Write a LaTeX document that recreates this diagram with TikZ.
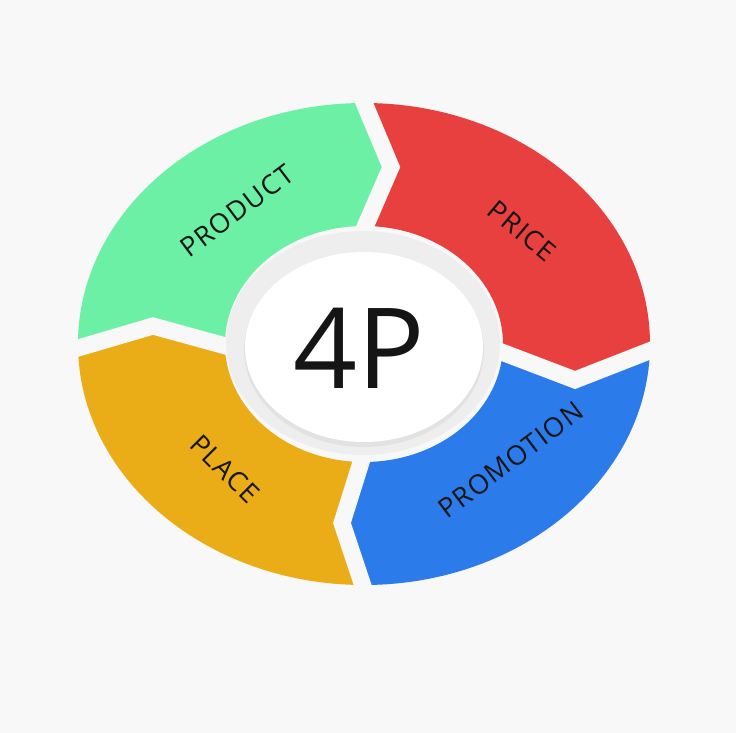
\documentclass[tikz,border=0pt]{standalone}
\usepackage{fontspec}
\setmainfont{Open Sans}
\newfontfamily\lblfont[LetterSpace=5]{Open Sans}
\definecolor{bg}{HTML}{F8F8F8}
\definecolor{prodc}{HTML}{6CF0A6}
\definecolor{pricec}{HTML}{E8403F}
\definecolor{promc}{HTML}{2C7BEB}
\definecolor{placec}{HTML}{EBAD17}
\definecolor{ringc}{HTML}{EEEEEE}
\definecolor{shadowc}{HTML}{E2E2E2}
\definecolor{labelc}{HTML}{151515}
\begin{document}
\begin{tikzpicture}[x=1pt,y=-1pt,
  lbl/.style={font=\lblfont\fontsize{27}{31}\selectfont, text=labelc, inner sep=0pt},
  gapline/.style={draw=bg, line width=17pt, miter limit=10, line join=miter}]
\useasboundingbox (0,0) rectangle (736,733);
\fill[bg] (0,0) rectangle (736,733);
\coordinate (c) at (364,344);
% PRODUCT segment
\begin{scope}
\clip (c) -- (262,356) -- (153,326) -- (0,371) -- (0,0) -- (321,0) -- (391,167) -- (352,257) -- cycle;
\fill[prodc, even odd rule] (c) ellipse [x radius=286, y radius=241] (c) ellipse [x radius=139, y radius=118];
\end{scope}
% PRICE segment
\begin{scope}
\clip (c) -- (352,257) -- (391,167) -- (321,0) -- (736,0) -- (736,317) -- (575,380) -- (470,340) -- cycle;
\fill[pricec, even odd rule] (c) ellipse [x radius=286, y radius=241] (c) ellipse [x radius=139, y radius=118];
\end{scope}
% PROMOTION segment
\begin{scope}
\clip (c) -- (470,340) -- (575,380) -- (736,317) -- (736,733) -- (412,733) -- (342,523) -- (368,440) -- cycle;
\fill[promc, even odd rule] (c) ellipse [x radius=286, y radius=241] (c) ellipse [x radius=139, y radius=118];
\end{scope}
% PLACE segment
\begin{scope}
\clip (c) -- (368,440) -- (342,523) -- (412,733) -- (0,733) -- (0,371) -- (153,326) -- (262,356) -- cycle;
\fill[placec, even odd rule] (c) ellipse [x radius=286, y radius=241] (c) ellipse [x radius=139, y radius=118];
\end{scope}
% chevron gaps
\draw[gapline] (321,0) -- (391,167) -- (352,257);
\draw[gapline] (736,317) -- (575,380) -- (470,340);
\draw[gapline] (412,733) -- (342,523) -- (368,440);
\draw[gapline] (0,371) -- (153,326) -- (262,356);
% centre
\fill[ringc] (363,343) ellipse [x radius=137, y radius=112];
\fill[shadowc] (364,350) ellipse [x radius=120, y radius=97];
\fill[white] (364,347) ellipse [x radius=119, y radius=95];
\node[font=\fontsize{112}{112}\selectfont, text=labelc, inner sep=0pt] (fourp) at (359,348) {4P};
% labels
\node[lbl, rotate=37] (product) at (237,211) {PRODUCT};
\node[lbl, rotate=-40] (price) at (522,231) {PRICE};
\node[lbl, rotate=37] (promotion) at (511,460) {PROMOTION};
\node[lbl, rotate=-45] (place) at (225,469) {PLACE};
\end{tikzpicture}
\end{document}
